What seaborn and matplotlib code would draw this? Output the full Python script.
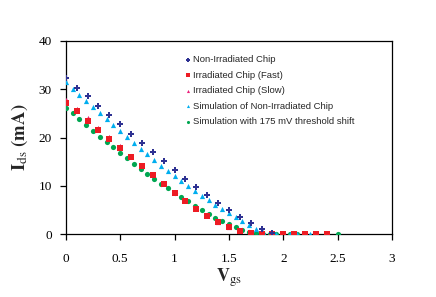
import numpy as np
import pandas as pd
import seaborn as sns
import matplotlib
matplotlib.use('Agg')
import matplotlib.pyplot as plt
from matplotlib.font_manager import FontProperties

# measured points, 0.1 V step
vgs_meas = [0.0, 0.1, 0.2, 0.3, 0.4, 0.5, 0.6, 0.7, 0.8, 0.9, 1.0, 1.1, 1.2,
            1.3, 1.4, 1.5, 1.6, 1.7, 1.8, 1.9]
ids_non_irr = [32.3, 30.3, 28.5, 26.5, 24.6, 22.7, 20.8, 18.9, 16.9, 15.1, 13.3,
               11.4, 9.7, 8.0, 6.5, 5.0, 3.6, 2.2, 1.0, 0.3]

vgs_irr = [0.0, 0.1, 0.2, 0.3, 0.4, 0.5, 0.6, 0.7, 0.8, 0.9, 1.0, 1.1, 1.2,
           1.3, 1.4, 1.5, 1.6, 1.7, 1.8, 1.9, 2.0, 2.1, 2.2, 2.3, 2.4]
ids_fast = [27.2, 25.4, 23.5, 21.6, 19.7, 17.9, 16.0, 14.1, 12.3, 10.4, 8.6,
            6.9, 5.2, 3.7, 2.4, 1.4, 0.6, 0.15, 0.0, 0.0, 0.0, 0.0, 0.0, 0.0, 0.0]
ids_slow = [27.8, 25.9, 24.0, 22.0, 20.1, 18.2, 16.2, 14.3, 12.4, 10.6, 8.7,
            7.0, 5.4, 3.9, 2.5, 1.5, 0.7, 0.2, 0.0, 0.0, 0.0, 0.0, 0.0, 0.0, 0.0]

# simulations, 62.5 mV step
vgs_sim = [0.0, 0.0625, 0.125, 0.1875, 0.25, 0.3125, 0.375, 0.4375, 0.5, 0.5625,
           0.625, 0.6875, 0.75, 0.8125, 0.875, 0.9375, 1.0, 1.0625, 1.125, 1.1875,
           1.25, 1.3125, 1.375, 1.4375, 1.5, 1.5625, 1.625, 1.6875, 1.75, 1.8125,
           1.875, 1.9375, 2.0, 2.0625, 2.125, 2.1875, 2.25, 2.3125]
ids_sim = [31.4, 30.1, 28.9, 27.6, 26.3, 25.0, 23.8, 22.6, 21.3, 20.1,
           18.9, 17.7, 16.5, 15.3, 14.2, 13.1, 12.0, 11.0, 9.9, 8.9,
           7.9, 7.0, 6.1, 5.2, 4.4, 3.6, 2.7, 1.9, 1.1, 0.5,
           0.1, 0.0, 0.0, 0.0, 0.0, 0.0, 0.0, 0.0]

vgs_shift = [0.0, 0.0625, 0.125, 0.1875, 0.25, 0.3125, 0.375, 0.4375, 0.5, 0.5625,
             0.625, 0.6875, 0.75, 0.8125, 0.875, 0.9375, 1.0, 1.0625, 1.125, 1.1875,
             1.25, 1.3125, 1.375, 1.4375, 1.5, 1.5625, 1.625, 1.6875, 1.75, 1.8125,
             1.875, 1.9375, 2.0, 2.0625, 2.125, 2.5]
ids_shift = [26.2, 25.0, 23.8, 22.6, 21.4, 20.2, 19.1, 18.0, 16.8, 15.7,
             14.6, 13.5, 12.5, 11.4, 10.4, 9.5, 8.6, 7.6, 6.8, 5.9,
             5.0, 4.2, 3.4, 2.7, 2.0, 1.4, 0.9, 0.5, 0.25, 0.1,
             0.0, 0.0, 0.0, 0.0, 0.0, 0.0]

labels = ["Non-Irradiated Chip", "Irradiated Chip (Fast)", "Irradiated Chip (Slow)",
          "Simulation of Non-Irradiated Chip", "Simulation with 175 mV threshold shift"]

df = pd.concat([
    pd.DataFrame({"Vgs": vgs_meas, "Ids": ids_non_irr, "Series": labels[0]}),
    pd.DataFrame({"Vgs": vgs_irr, "Ids": ids_fast, "Series": labels[1]}),
    pd.DataFrame({"Vgs": vgs_irr, "Ids": ids_slow, "Series": labels[2]}),
    pd.DataFrame({"Vgs": vgs_sim, "Ids": ids_sim, "Series": labels[3]}),
    pd.DataFrame({"Vgs": vgs_shift, "Ids": ids_shift, "Series": labels[4]}),
])

colors = {labels[0]: "#2e3192", labels[1]: "#ed1c24", labels[2]: "#ec1e79",
          labels[3]: "#00aeef", labels[4]: "#00a651"}
markers = {labels[0]: "P", labels[1]: "s", labels[2]: "^",
           labels[3]: "^", labels[4]: "o"}

sns.set_style("ticks")
plt.rcParams["font.family"] = ["Liberation Serif", "DejaVu Serif"]
plt.rcParams["mathtext.fontset"] = "stix"

fig = plt.figure(figsize=(4.36, 2.97), dpi=100)
ax = fig.add_axes([0.151, 0.212, 0.748, 0.650])

# draw in reverse so the non-irradiated points end on top
for lab in labels[::-1]:
    sub = df[df["Series"] == lab]
    sns.scatterplot(data=sub, x="Vgs", y="Ids", color=colors[lab], marker=markers[lab],
                    s=14, linewidth=0, ax=ax, label=lab, zorder=3)

ax.set_xlim(0, 3)
ax.set_ylim(0, 40)
ax.set_xticks([0, 0.5, 1, 1.5, 2, 2.5, 3])
ax.set_xticklabels(["0", "0.5", "1", "1.5", "2", "2.5", "3"])
ax.set_yticks([0, 10, 20, 30, 40])
for sp in ax.spines.values():
    sp.set_visible(True)
    sp.set_color("black")
    sp.set_linewidth(0.9)
ax.tick_params(direction="out", length=4, width=0.9, colors="black", labelsize=9.5)
ax.tick_params(axis="x", pad=10)
ax.tick_params(axis="y", pad=6)

ax.set_xlabel(r"$\mathbf{V}_{\mathrm{gs}}$", fontsize=13, labelpad=1)
ax.set_ylabel(r"$\mathbf{I}_{\mathrm{ds}}\ \mathbf{(mA)}$", fontsize=13.5, labelpad=6)

handles, labs = ax.get_legend_handles_labels()
order = [labs.index(l) for l in labels]
leg = ax.legend([handles[i] for i in order], labels, loc="upper left",
                bbox_to_anchor=(0.345, 0.945), frameon=False,
                prop=FontProperties(family="Liberation Sans", size=6.8),
                handletextpad=0.0, labelspacing=0.68, markerscale=0.6,
                borderaxespad=0, handlelength=1.2)

fig.savefig("out.png", dpi=100)
